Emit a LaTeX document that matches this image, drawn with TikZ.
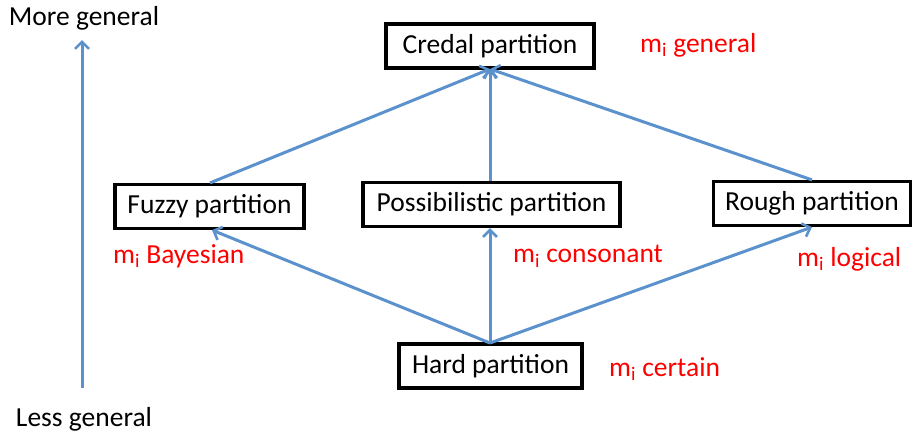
\documentclass[tikz,border=0pt]{standalone}
\usepackage{fontspec}
\setmainfont{Carlito}
\usetikzlibrary{arrows.meta}
\definecolor{arrowblue}{RGB}{91,145,205}
\tikzset{
  box/.style={draw=black, line width=3.2pt, minimum height=44pt, inner sep=0pt, font=\fontsize{27.5}{32}\selectfont},
  lbl/.style={text=red, font=\fontsize{27.5}{32}\selectfont, inner sep=0pt},
  axis/.style={font=\fontsize{27.5}{32}\selectfont, inner sep=0pt},
  conn/.style={draw=arrowblue, line width=3pt, -{Straight Barb[length=7pt,width=14pt,line width=2.6pt]}}
}
\begin{document}
\begin{tikzpicture}[x=1pt,y=-1pt]
\useasboundingbox (0,0) rectangle (914,434);
\node[box, minimum width=208pt] (credal) at (490,46) {Credal partition};
\node[box, minimum width=189pt] (fuzzy) at (209.5,206.5) {Fuzzy partition};
\node[box, minimum width=257pt] (poss) at (491.5,204.5) {Possibilistic partition};
\node[box, minimum width=197pt] (rough) at (812,203.5) {Rough partition};
\node[box, minimum width=183pt] (hard) at (490.5,366) {Hard partition};
\node[lbl, anchor=west] (lg) at (640,45) {m\textsubscript{i} general};
\node[lbl, anchor=west] (lb) at (113,256) {m\textsubscript{i} Bayesian};
\node[lbl, anchor=west] (lc) at (513,256) {m\textsubscript{i} consonant};
\node[lbl, anchor=west] (ll) at (797,259) {m\textsubscript{i} logical};
\node[lbl, anchor=west] (lcert) at (609,369) {m\textsubscript{i} certain};
\node[axis] (more) at (84,18) {More general};
\node[axis] (less) at (84,419) {Less general};
\coordinate (abot) at (82,388);
\coordinate (atop) at (82,40);
\draw[conn] (abot) -- (atop);
\coordinate (hc) at (490,343);
\coordinate (cc) at (490,69);
\draw[conn] (hc) -- (fuzzy.south -| 212,0);
\draw[conn] (hc) -- (poss.south -| hc);
\draw[conn] (hc) -- (rough.south -| 812,0);
\draw[conn] (fuzzy.north -| 210,0) -- (cc);
\draw[conn] (poss.north -| hc) -- (cc);
\draw[conn] (rough.north -| 812,0) -- (cc);
\end{tikzpicture}
\end{document}
